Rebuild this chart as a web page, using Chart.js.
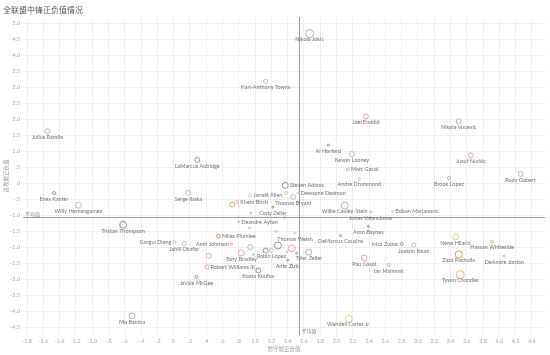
<!DOCTYPE html>
<html><head><meta charset="utf-8">
<script src="https://cdn.jsdelivr.net/npm/chart.js@4/dist/chart.umd.min.js"></script>
<style>html,body{margin:0;padding:0;background:#fff;} #wrap{width:550px;height:355px;position:relative;}</style>
</head><body><div id="wrap"><canvas id="c" width="550" height="355"></canvas></div>
<script>
// ---- data ----
const players = ['Nikola Jokic','Karl-Anthony Towns','Julius Randle','LaMarcus Aldridge','Joel Embiid','Nikola Vucevic','Al Horford','Kevon Looney','Marc Gasol','Jusuf Nurkic',
 'Brook Lopez','Rudy Gobert','Andre Drummond','Steven Adams','Jarrett Allen','Dewayne Dedmon','Thomas Bryant','Khem Birch','Serge Ibaka','Enes Kanter',
 'Willy Hernangomez','Cody Zeller','Deandre Ayton','Willie Cauley-Stein','Boban Marjanovic','Jonas Valanciunas','Aron Baynes','DeMarcus Cousins','Thomas Welsh','Miles Plumlee',
 'Amir Johnson','Gorgui Dieng','Jahlil Okafor','Tristan Thompson','Mo Bamba','Tony Bradley','Robert Williams III','JaVale McGee','Kosta Koufos','Robin Lopez',
 'Ante Zizic','Tyler Zeller','Pau Gasol','Ian Mahinmi','Ivica Zubac','Joakim Noah','Nene Hilario','Hassan Whiteside','Zaza Pachulia','DeAndre Jordan',
 'Tyson Chandler','Wendell Carter Jr.',
 '','','','','','','','','','','','','',''];
const defRPM = [1.67,1.13,-1.55,0.29,2.36,3.50,1.90,2.19,2.14,3.65,
 3.38,4.26,2.28,1.37,0.94,1.53,1.47,0.78,0.18,-1.47,
 -1.17,1.22,0.80,2.10,2.69,2.42,2.39,2.05,1.49,0.55,
 0.71,0.01,0.13,-0.62,-0.51,0.83,0.41,0.28,1.04,1.20,
 1.40,1.66,2.34,2.64,2.80,2.95,3.46,3.91,3.50,4.06,
 3.52,2.15,
 1.38,0.72,1.36,0.93,0.95,0.94,0.98,1.13,1.28,1.45,1.39,1.51,0.43,1.26];
const offRPM = [4.68,3.19,1.63,0.73,2.09,1.94,1.19,0.91,0.43,0.87,
 0.16,0.29,0.14,-0.07,-0.38,-0.30,-0.43,-0.59,-0.30,-0.31,
 -0.69,-0.75,-1.21,-0.70,-0.88,-0.90,-1.35,-1.64,-1.56,-1.66,
 -1.90,-1.84,-1.89,-1.30,-4.15,-2.18,-2.62,-2.93,-2.73,-2.10,
 -2.41,-2.16,-2.34,-2.56,-1.90,-1.94,-1.68,-1.83,-2.23,-2.28,
 -2.86,-4.24,
 -0.31,-0.67,-1.07,-1.40,-0.93,-2.00,-2.23,-2.11,-1.95,-2.04,-2.15,-2.19,-2.27,-1.51];
const weight = [8,4,5,5,5,5,2,5,3,5,
 3,5,2,6,3,2,5,3,5,3,
 6,2,2,7,2,2,2,2,2,4,
 2,3,4,7,6,6,4,3,5,4,
 2,6,6,3,3,4,6,3,7,2,
 8,7,
 3,5,3,2,2,5,2,5,7,7,2,2,5,2];
const group = [2,0,0,1,3,2,1,0,0,3,
 3,0,0,1,4,0,0,3,0,1,
 0,1,3,2,0,3,1,1,0,5,
 3,0,0,1,2,3,3,1,1,0,
 1,2,3,3,1,6,4,5,7,0,
 5,4,
 4,5,4,0,0,2,2,1,1,3,0,1,3,0];
const xTicks = [-1.8,-1.6,-1.4,-1.2,-1.0,-0.8,-0.6,-0.4,-0.2,0,0.2,0.4,0.6,0.8,1.0,1.2,1.4,1.6,1.8,2.0,2.2,2.4,2.6,2.8,3.0,3.2,3.4,3.6,3.8,4.0,4.2,4.4];
const yTicks = [5.0,4.5,4.0,3.5,3.0,2.5,2.0,1.5,1.0,0.5,0,-0.5,-1.0,-1.5,-2.0,-2.5,-3.0,-3.5,-4.0,-4.5];
const meanDef = 1.54;
const meanOff = -1.07;

// ---- style ----
const palette = ['#bdbdbd','#929292','#9fc29f','#e7a3b1','#dcd08a','#e4ad5e','#abbacb','#c9a046'];
const labelSide = ['b','b','b','b','b','b','b','b','r','b',
 'b','b','b','r','r','r','b','r','b','b',
 'b','b','r','b','r','b','b','b','b','r',
 'l','l','b','b','b','b','r','b','b','b',
 'b','b','b','b','l','b','b','b','b','b',
 'b','b'];

function fmt(v){
  if (Math.abs(v) < 1e-9) return '0';
  let s = Math.abs(v).toFixed(1);
  if (s.startsWith('0')) s = s.slice(1);
  return (v < 0 ? '-' : '') + s;
}
const pts = defRPM.map((x,i)=>({x:x, y:offRPM[i]}));
const radius = i => weight[i] / 2;

const refLines = {
  id:'refLines',
  beforeDatasetsDraw(chart){
    const {ctx, chartArea:a, scales:{x,y}} = chart;
    const px = Math.round(x.getPixelForValue(meanDef)) + 0.5;
    const py = Math.round(y.getPixelForValue(meanOff)) + 0.5;
    ctx.save();
    ctx.strokeStyle = '#9a9a9a'; ctx.lineWidth = 1;
    ctx.beginPath(); ctx.moveTo(px, a.top); ctx.lineTo(px, a.bottom); ctx.stroke();
    ctx.beginPath(); ctx.moveTo(a.left, py); ctx.lineTo(a.right, py); ctx.stroke();
    ctx.fillStyle = '#888'; ctx.font = '5px "Noto Sans CJK SC"';
    ctx.textBaseline = 'middle'; ctx.textAlign = 'left';
    ctx.fillText('平均值', a.left + 2, py - 3.5);
    ctx.fillText('平均值', px + 2, a.bottom - 4);
    ctx.restore();
  }
};
const nameLabels = {
  id:'nameLabels',
  afterDatasetsDraw(chart){
    const ctx = chart.ctx; const meta = chart.getDatasetMeta(0);
    ctx.save(); ctx.font = '5.5px Lato'; ctx.fillStyle = '#707070';
    meta.data.forEach((el,i)=>{
      const name = players[i]; if (!name) return;
      const r = radius(i), side = labelSide[i];
      ctx.textBaseline = 'middle';
      if (side === 'b'){ ctx.textAlign='center'; ctx.fillText(name, el.x, el.y + 6); }
      else if (side === 'r'){ ctx.textAlign='left'; ctx.fillText(name, el.x + r + 1.5, el.y); }
      else { ctx.textAlign='right'; ctx.fillText(name, el.x - r - 1.5, el.y); }
    });
    ctx.restore();
  }
};

new Chart(document.getElementById('c'), {
  type:'scatter',
  data:{ datasets:[{
    data: pts,
    pointRadius: ctx => radius(ctx.dataIndex),
    pointHoverRadius: ctx => radius(ctx.dataIndex),
    pointBorderColor: ctx => palette[group[ctx.dataIndex]],
    pointBackgroundColor: 'rgba(255,255,255,0)',
    pointBorderWidth: 1
  }]},
  options:{
    responsive:false, animation:false,
    layout:{ padding:{left:3, right:5, top:0, bottom:0} },
    plugins:{
      legend:{display:false}, tooltip:{enabled:false},
      title:{ display:true, text:'全联盟中锋正负值情况', align:'start', color:'#555',
        font:{family:'"Noto Sans CJK SC"', size:8, weight:'normal', lineHeight:1.2},
        padding:{top:5.2, bottom:2.2} }
    },
    scales:{
      x:{ type:'linear', min:-1.85, max:4.56,
        afterBuildTicks: s => { s.ticks = xTicks.map(v=>({value:v})); },
        afterFit: s => { s.height = 20; },
        ticks:{ callback: v => fmt(v), color:'#a8a8a8', font:{family:'Lato', size:5.5}, padding:3, maxRotation:0, autoSkip:false },
        grid:{ color:'#efefef', drawTicks:false }, border:{display:false},
        title:{ display:true, text:'防守端正负值', color:'#999', font:{family:'"Noto Sans CJK SC"', size:5.5}, padding:{top:0,bottom:2.7} }
      },
      y:{ type:'linear', min:-4.75, max:5.2,
        afterBuildTicks: s => { s.ticks = yTicks.map(v=>({value:v})); },
        afterFit: s => { s.width = 20; },
        ticks:{ callback: v => fmt(v), color:'#a8a8a8', font:{family:'Lato', size:5.5}, padding:3, autoSkip:false },
        grid:{ color:'#efefef', drawTicks:false }, border:{display:false},
        title:{ display:true, text:'进攻端正负值', color:'#999', font:{family:'"Noto Sans CJK SC"', size:5.5}, padding:{top:0,bottom:0} }
      }
    }
  },
  plugins:[refLines, nameLabels]
});
</script></body></html>
